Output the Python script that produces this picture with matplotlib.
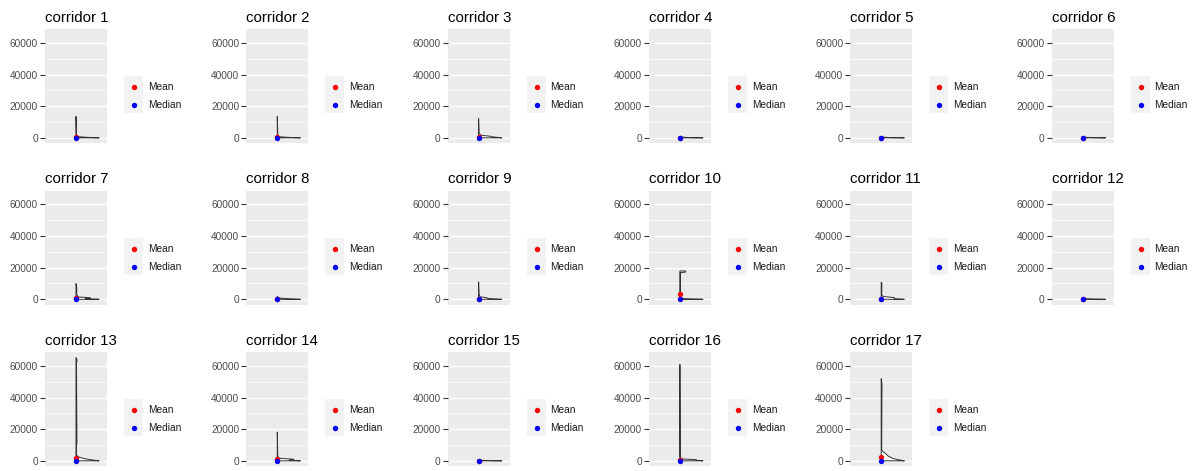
import matplotlib
matplotlib.use("Agg")
import matplotlib.pyplot as plt
from matplotlib.patches import Rectangle, Polygon
from matplotlib.lines import Line2D

plt.rcParams["font.family"] = ["Liberation Sans", "DejaVu Sans"]

# ---- data -------------------------------------------------------------
corridor_ids = list(range(1, 18))
titles = [f"corridor {i}" for i in corridor_ids]

# half-violin outline per corridor: value levels and relative half-width (1 = widest)
density_levels = [
    [0, 250, 700, 2000, 13600],
    [0, 250, 700, 2000, 13500],
    [0, 300, 700, 1000, 1600, 3000, 12200],
    [0, 150, 500],
    [0, 150, 450],
    [0, 150, 450],
    [0, 300, 700, 1000, 1500, 3000, 7500, 10000],
    [0, 300, 900, 2000],
    [0, 300, 700, 1000, 1600, 3000, 11100],
    [0, 300, 800, 2000, 16800, 17200, 17900],
    [0, 300, 800, 1100, 1800, 3000, 10000, 10700],
    [0, 150, 400],
    [0, 500, 1200, 2200, 3000, 4000, 10000, 11000, 62000, 63500, 65500],
    [0, 300, 700, 1000, 1600, 3000, 18300],
    [0, 150, 400],
    [0, 300, 700, 1200, 2500, 61000],
    [0, 600, 1500, 3000, 4500, 6000, 7000, 41000, 45000, 49000, 52000],
]
density_widths = [
    [1.0, 0.55, 0.08, 0.02, 0.0],
    [1.0, 0.5, 0.06, 0.02, 0.0],
    [1.0, 0.8, 0.55, 0.5, 0.1, 0.02, 0.0],
    [1.0, 0.4, 0.0],
    [1.0, 0.4, 0.0],
    [1.0, 0.4, 0.0],
    [1.0, 0.4, 0.62, 0.6, 0.1, 0.03, 0.03, 0.0],
    [1.0, 0.45, 0.05, 0.0],
    [1.0, 0.5, 0.38, 0.35, 0.06, 0.02, 0.0],
    [1.0, 0.2, 0.04, 0.02, 0.02, 0.25, 0.25],
    [1.0, 0.55, 0.58, 0.55, 0.08, 0.02, 0.03, 0.0],
    [1.0, 0.4, 0.0],
    [1.0, 0.72, 0.42, 0.15, 0.05, 0.02, 0.02, 0.04, 0.02, 0.05, 0.0],
    [1.0, 0.5, 0.72, 0.7, 0.08, 0.02, 0.0],
    [1.0, 0.4, 0.0],
    [1.0, 0.75, 0.7, 0.08, 0.01, 0.0],
    [1.0, 0.75, 0.5, 0.3, 0.2, 0.06, 0.02, 0.03, 0.035, 0.03, 0.0],
]
mean_values = [300, 300, 350, 50, 50, 50, 900, 250, 400, 3400, 500, 50,
               1500, 850, 50, 400, 2100]
median_values = [0] * 17

legend_labels = ["Mean", "Median"]
legend_colors = ["red", "blue"]
y_ticks = [0, 20000, 40000, 60000]
y_minor = [10000, 30000, 50000]

# ---- layout (pixels) --------------------------------------------------
W, H = 1200, 471
fig = plt.figure(figsize=(W / 100, H / 100), dpi=100)

col_left = [45 + 201.3 * c for c in range(6)]
row_top = [29, 190.5, 352]
pw, ph = 62, 114

all_vals = [v for lv in density_levels for v in lv]
lo, hi = min(all_vals), max(all_vals)
pad = 0.05 * (hi - lo)
ylim = (lo - pad, hi + pad)

center, half = 1.0, 0.45


def fx(px):
    return px / W


def fy(py):
    return 1 - py / H


for k, cid in enumerate(corridor_ids):
    r, c = divmod(k, 6)
    left, top = col_left[c], row_top[r]
    ax = fig.add_axes([fx(left), fy(top + ph), pw / W, ph / H])
    ax.set_facecolor("#EBEBEB")
    ax.set_xlim(0.4, 1.6)
    ax.set_ylim(*ylim)
    for s in ax.spines.values():
        s.set_visible(False)
    ax.set_xticks([])
    ax.set_yticks(y_ticks)
    ax.set_yticklabels([str(t) for t in y_ticks])
    ax.set_yticks(y_minor, minor=True)
    ax.tick_params(axis="y", which="major", length=3.5, width=0.8,
                   color="#333333", labelcolor="#4D4D4D", labelsize=7.3, pad=1.5)
    ax.tick_params(axis="y", which="minor", length=0)
    ax.grid(True, which="major", axis="y", color="white", lw=1.0)
    ax.grid(True, which="minor", axis="y", color="white", lw=0.5)
    ax.set_axisbelow(True)

    ys = density_levels[k]
    ws = density_widths[k]
    pts = [(center + half * w, y) for y, w in zip(ys, ws)]
    pts = [(center, ys[0])] + pts + [(center, ys[-1])]
    ax.add_patch(Polygon(pts, closed=True, facecolor="white",
                         edgecolor="#333333", lw=0.7, zorder=3))

    ax.scatter([center], [mean_values[k]], s=15, color=legend_colors[0], zorder=4, lw=0)
    ax.scatter([center], [median_values[k]], s=15, color=legend_colors[1], zorder=5, lw=0)

    fig.text(fx(left), fy(top - 7.3), titles[k], fontsize=10.8,
             color="black", ha="left", va="baseline")

    # legend
    fig.add_artist(Rectangle((fx(left + 79), fy(top + 84)), 19 / W, 37 / H,
                             transform=fig.transFigure, facecolor="#F2F2F2",
                             edgecolor="none"))
    for j, (lab, col) in enumerate(zip(legend_labels, legend_colors)):
        yy = top + 58 + 18 * j
        fig.add_artist(Line2D([fx(left + 89)], [fy(yy)], marker="o", markersize=3.9,
                              color=col, markeredgewidth=0, linestyle="none",
                              transform=fig.transFigure))
        fig.text(fx(left + 103), fy(yy), lab, fontsize=7.3, color="#1A1A1A",
                 ha="left", va="center")

fig.savefig("out.png", dpi=100, facecolor="white")
